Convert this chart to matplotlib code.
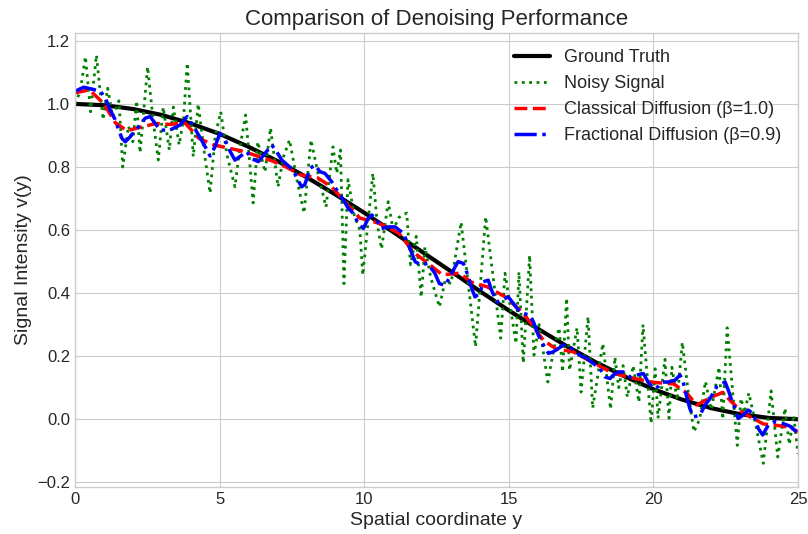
import matplotlib
matplotlib.use("Agg")
import matplotlib.pyplot as plt

# ---------------- data ----------------
truth_x = [0, 1, 2, 3, 4, 5, 6, 7, 8, 9, 10, 11, 12, 13, 14, 15, 16, 17, 18, 19, 20, 21, 22, 23, 24, 25]
truth_y = [1.000, 0.996, 0.984, 0.965, 0.938, 0.905, 0.864, 0.819, 0.768, 0.713, 0.655, 0.594,
           0.531, 0.469, 0.406, 0.345, 0.287, 0.232, 0.181, 0.136, 0.095, 0.062, 0.035, 0.016,
           0.004, 0.000]

noisy_x = [0.00, 0.18, 0.36, 0.54, 0.74, 0.97, 1.13, 1.30, 1.52, 1.65, 1.85, 2.00, 2.13, 2.25,
           2.51, 2.70, 2.88, 3.05, 3.26, 3.40, 3.60, 3.75, 3.88, 4.09, 4.26, 4.45, 4.67, 4.85,
           5.04, 5.25, 5.53, 5.70, 5.90, 6.16, 6.32, 6.57, 6.76, 7.02, 7.20, 7.42, 7.65, 7.92,
           8.16, 8.40, 8.68, 8.92, 9.05, 9.18, 9.30, 9.44, 9.65, 9.85, 9.95, 10.30, 10.45, 10.60,
           10.83, 11.00, 11.20, 11.47, 11.60, 11.80, 11.97, 12.10, 12.30, 12.60, 12.80, 13.00,
           13.35, 13.85, 14.20, 14.72, 14.87, 15.25, 15.35, 15.50, 15.72, 15.87, 16.05, 16.35,
           16.55, 16.74, 16.86, 17.00, 17.10, 17.36, 17.50, 17.74, 17.90, 18.25, 18.52, 18.67,
           18.80, 18.95, 19.10, 19.30, 19.50, 19.64, 19.92, 20.06, 20.16, 20.40, 20.54, 20.64,
           20.82, 21.00, 21.20, 21.40, 21.60, 21.80, 22.00, 22.27, 22.40, 22.55, 22.90, 23.03,
           23.15, 23.30, 23.50, 23.80, 24.07, 24.30, 24.55, 24.70, 24.85, 25.00]
noisy_y = [1.000, 1.040, 1.150, 0.975, 1.155, 0.950, 1.050, 0.960, 1.010, 0.800, 0.930, 0.880,
           1.010, 0.845, 1.118, 0.950, 0.822, 0.990, 0.854, 0.990, 0.870, 0.950, 1.130, 0.833,
           1.000, 0.860, 0.717, 0.900, 0.975, 0.840, 0.737, 0.860, 0.965, 0.686, 0.880, 0.784,
           0.924, 0.737, 0.830, 0.886, 0.770, 0.654, 0.886, 0.780, 0.673, 0.864, 0.780, 0.854,
           0.430, 0.760, 0.650, 0.600, 0.457, 0.780, 0.620, 0.540, 0.690, 0.600, 0.640, 0.654,
           0.490, 0.580, 0.387, 0.546, 0.450, 0.356, 0.440, 0.430, 0.625, 0.230, 0.642, 0.257,
           0.463, 0.240, 0.467, 0.178, 0.520, 0.203, 0.300, 0.118, 0.220, 0.290, 0.150, 0.384,
           0.155, 0.290, 0.086, 0.325, 0.035, 0.240, 0.032, 0.197, 0.100, 0.170, 0.070, 0.170,
           0.054, 0.300, -0.013, 0.160, 0.003, 0.190, 0.003, 0.165, 0.060, 0.244, 0.090, -0.040,
           0.000, 0.120, 0.030, 0.165, 0.000, 0.290, -0.083, 0.066, 0.020, 0.083, 0.000, -0.140,
           0.090, -0.120, 0.035, -0.080, 0.013, -0.110]

classical_x = [0.0, 0.5, 1.0, 1.4, 1.8, 2.3, 2.8, 3.3, 3.8, 4.3, 4.8, 5.3, 5.8, 6.3, 6.8, 7.3,
               7.8, 8.4, 8.9, 9.3, 9.85, 10.5, 11.2, 11.7, 12.2, 12.7, 13.3, 13.7, 14.25, 14.9,
               15.5, 16.2, 16.65, 17.2, 17.9, 18.6, 19.3, 20.0, 20.7, 21.15, 21.5, 22.0, 22.4,
               22.7, 23.1, 23.8, 24.3, 24.7, 25.0]
classical_y = [1.035, 1.045, 1.000, 0.940, 0.915, 0.927, 0.938, 0.935, 0.940, 0.890, 0.870,
               0.860, 0.850, 0.835, 0.820, 0.800, 0.775, 0.765, 0.735, 0.692, 0.638, 0.622,
               0.590, 0.530, 0.495, 0.458, 0.463, 0.435, 0.420, 0.387, 0.336, 0.250, 0.222,
               0.215, 0.180, 0.146, 0.130, 0.117, 0.112, 0.083, 0.045, 0.070, 0.085, 0.055,
               0.020, -0.015, -0.020, -0.025, -0.040]

fractional_x = [0.00, 0.30, 0.59, 0.88, 1.05, 1.22, 1.39, 1.51, 1.63, 1.74, 1.91, 2.09, 2.26,
                2.43, 2.60, 2.94, 3.28, 3.63, 3.88, 4.09, 4.44, 4.67, 4.84, 5.01, 5.19, 5.36,
                5.53, 5.70, 5.94, 6.10, 6.34, 6.57, 6.80, 6.97, 7.15, 7.30, 7.55, 7.67, 7.84,
                7.95, 8.13, 8.30, 8.47, 8.64, 8.88, 9.10, 9.28, 9.45, 9.62, 9.80, 9.97, 10.14,
                10.26, 10.43, 10.60, 10.83, 11.07, 11.35, 11.58, 11.76, 11.93, 12.20, 12.45,
                12.60, 12.80, 12.97, 13.14, 13.25, 13.43, 13.54, 13.72, 13.83, 14.00, 14.12,
                14.29, 14.40, 14.58, 14.75, 14.98, 15.16, 15.33, 15.50, 15.71, 15.85, 16.02,
                16.20, 16.37, 16.54, 16.71, 16.88, 17.06, 17.23, 17.46, 17.69, 17.92, 18.15,
                18.33, 18.50, 18.61, 18.79, 18.96, 19.19, 19.42, 19.65, 19.82, 20.00, 20.17,
                20.30, 20.52, 20.75, 20.92, 21.03, 21.15, 21.26, 21.38, 21.61, 21.78, 21.96,
                22.19, 22.48, 22.59, 22.71, 22.82, 22.93, 23.10, 23.28, 23.45, 23.63, 23.78,
                23.97, 24.20, 24.49, 24.72, 24.95]
fractional_y = [1.040, 1.053, 1.047, 1.040, 1.018, 0.980, 0.950, 0.917, 0.890, 0.880, 0.896,
                0.917, 0.933, 0.955, 0.960, 0.917, 0.917, 0.933, 0.960, 0.930, 0.875, 0.835,
                0.864, 0.907, 0.886, 0.850, 0.822, 0.833, 0.849, 0.827, 0.817, 0.843, 0.870,
                0.849, 0.822, 0.810, 0.790, 0.764, 0.737, 0.745, 0.796, 0.806, 0.785, 0.780,
                0.753, 0.720, 0.695, 0.669, 0.653, 0.620, 0.605, 0.637, 0.648, 0.632, 0.605,
                0.610, 0.610, 0.590, 0.542, 0.500, 0.490, 0.494, 0.462, 0.430, 0.425, 0.452,
                0.483, 0.500, 0.494, 0.468, 0.415, 0.388, 0.399, 0.436, 0.441, 0.410, 0.372,
                0.377, 0.388, 0.367, 0.346, 0.336, 0.330, 0.309, 0.267, 0.235, 0.209, 0.214,
                0.224, 0.235, 0.235, 0.219, 0.203, 0.193, 0.177, 0.161, 0.134, 0.129, 0.140,
                0.150, 0.150, 0.134, 0.140, 0.145, 0.118, 0.097, 0.103, 0.118, 0.118, 0.124,
                0.140, 0.118, 0.071, 0.034, 0.007, 0.013, 0.044, 0.066, 0.103, 0.118, 0.092,
                0.060, 0.034, 0.002, 0.013, 0.029, 0.018, -0.030, -0.050, -0.019, -0.008,
                -0.014, -0.022, -0.040]

# ---------------- plot ----------------
plt.style.use("seaborn-v0_8-whitegrid")
fig = plt.figure(figsize=(8.08, 5.34), dpi=100)
ax = fig.add_axes([75 / 808, 1 - 487 / 534, (798 - 75) / 808, (487 - 33) / 534])

ax.plot(truth_x, truth_y, color="black", lw=3, label="Ground Truth")
ax.plot(noisy_x, noisy_y, color="green", lw=2, linestyle=":", label="Noisy Signal")
ax.plot(classical_x, classical_y, color="red", lw=2.5, linestyle="--",
        label="Classical Diffusion (β=1.0)")
ax.plot(fractional_x, fractional_y, color="blue", lw=2.5, linestyle="-.",
        label="Fractional Diffusion (β=0.9)")

ax.set_xlim(0, 25)
ax.set_ylim(-0.215, 1.225)
ax.set_title("Comparison of Denoising Performance", fontsize=16)
ax.set_xlabel("Spatial coordinate y", fontsize=14)
ax.set_ylabel("Signal Intensity v(y)", fontsize=14)
ax.tick_params(labelsize=12)
for s in ax.spines.values():
    s.set_visible(True)
    s.set_color("#cccccc")
ax.legend(loc="upper right", fontsize=13)

fig.savefig("out.png", dpi=100)
